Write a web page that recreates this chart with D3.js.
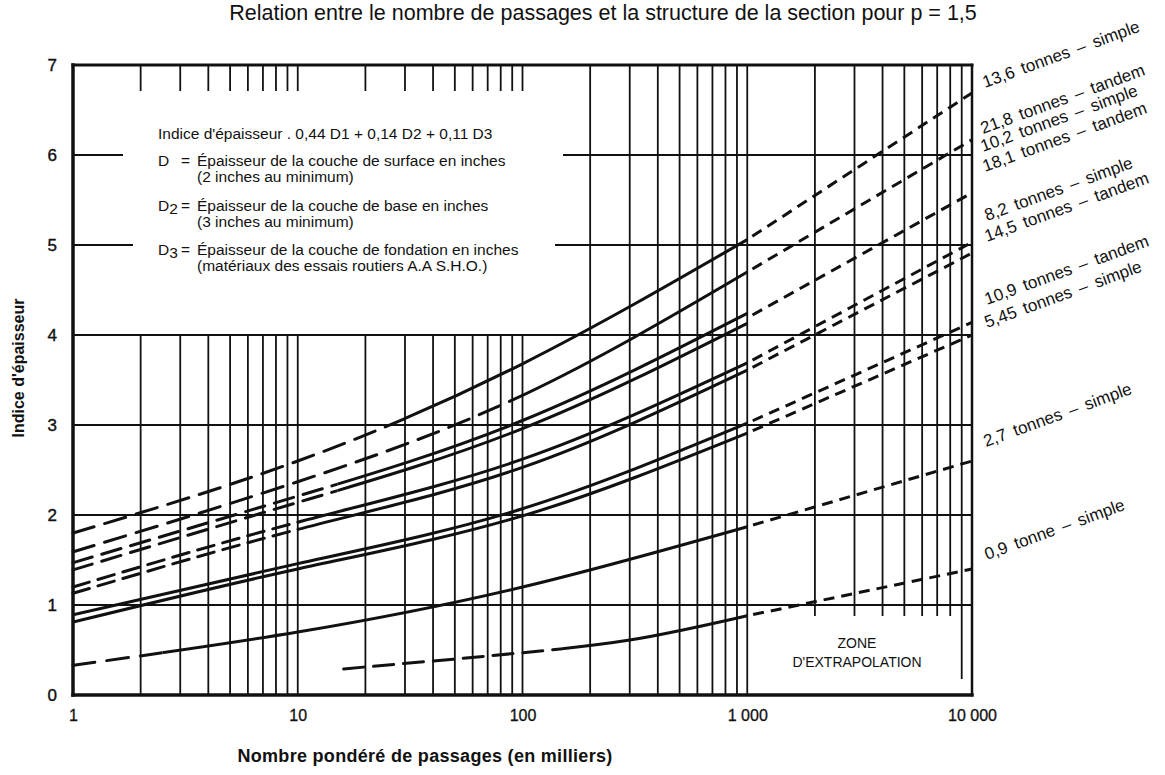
<!DOCTYPE html>
<html>
<head>
<meta charset="utf-8">
<script src="https://cdn.jsdelivr.net/npm/d3@7"></script>
<style>
  html, body { margin: 0; padding: 0; background: #fff; }
  svg { display: block; }
  text { font-family: "Liberation Sans", Arial, sans-serif; fill: #111; }
</style>
</head>
<body>
<svg id="chart" width="1165" height="775"></svg>
<script>
// ---- Axis ticks -------------------------------------------------------
const xTickValues = [1, 10, 100, 1000, 10000];
const xTickLabels = ["1", "10", "100", "1 000", "10 000"];
const yTickValues = [0, 1, 2, 3, 4, 5, 6, 7];

// ---- Curves: thickness index against weighted passes (thousands) -------
const axleLoads = [
  "13,6 tonnes – simple", "21,8 tonnes – tandem",
  "10,2 tonnes – simple", "18,1 tonnes – tandem",
  "8,2 tonnes – simple",  "14,5 tonnes – tandem",
  "10,9 tonnes – tandem", "5,45 tonnes – simple",
  "2,7 tonnes – simple",  "0,9 tonne – simple"
];

// measured part, knots at 1, 10, 100 and 1 000 thousand passes
const passages = [1, 10, 100, 1000];
const index136 = [1.80, 2.60, 3.68, 5.06];
const index218 = [1.59, 2.37, 3.33, 4.70];
const index102 = [1.47, 2.21, 3.05, 4.24];
const index181 = [1.39, 2.14, 2.96, 4.13];
const index82  = [1.20, 1.92, 2.62, 3.69];
const index145 = [1.13, 1.84, 2.53, 3.61];
const index109 = [0.89, 1.46, 2.07, 3.02];
const index545 = [0.81, 1.40, 1.99, 2.91];
const index27  = [0.33, 0.70, 1.20, 1.87];
// the lightest load starts further along the axis
const passages09 = [16, 50, 100, 300, 1000];
const index09    = [0.29, 0.40, 0.47, 0.61, 0.88];

// where the long-dashed beginning turns into a solid line
const solidFrom = [30, 100, 15, 15, 10, 10, 1, 1, 2.5, 150];

// extrapolation from 1 000 to 10 000 thousand passes
const extPassages = [1000, 10000];
const extension = [
  [5.06, 6.69], [4.70, 6.17], [4.19, 5.58], null,
  [3.69, 5.03], [3.61, 4.91], [3.02, 4.14], [2.91, 4.00],
  [1.87, 2.60], [0.88, 1.40]
];

const legendLines = [
  "Indice d'épaisseur . 0,44 D1 + 0,14 D2 + 0,11 D3",
  "Épaisseur de la couche de surface en inches",
  "(2 inches au minimum)",
  "Épaisseur de la couche de base en inches",
  "(3 inches au minimum)",
  "Épaisseur de la couche de fondation en inches",
  "(matériaux des essais routiers A.A S.H.O.)"
];

// ---- Build the series ------------------------------------------------
const measured = [index136, index218, index102, index181, index82, index145,
                  index109, index545, index27];
const series = axleLoads.map((name, i) => {
  const xs = i < 9 ? passages : passages09;
  const ys = i < 9 ? measured[i] : index09;
  return {
    name,
    points: xs.map((p, k) => [p, ys[k]]),
    solidFrom: solidFrom[i],
    ext: extension[i] ? extPassages.map((p, k) => [p, extension[i][k]]) : null
  };
});

// ---- Layout ----------------------------------------------------------
const svg = d3.select("#chart");
const x = d3.scaleLog().domain([1, 10000]).range([73, 972]);
const y = d3.scaleLinear().domain([0, 7]).range([695, 65]);
const ink = "#111";

// Title
svg.append("text")
  .attr("x", 603).attr("y", 20)
  .attr("text-anchor", "middle")
  .style("font-size", "21.5px")
  .text("Relation entre le nombre de passages et la structure de la section pour p = 1,5");

// ---- Grid ------------------------------------------------------------
const grid = svg.append("g").attr("stroke", ink).attr("stroke-width", 1.8).attr("fill", "none");

const minor = [];
for (let d = 0; d < 4; d++) {
  for (let m = 2; m <= 10; m++) minor.push(m * Math.pow(10, d));
}
minor.forEach(v => {
  const px = x(v);
  if (v <= 100) {
    grid.append("line").attr("x1", px).attr("x2", px).attr("y1", y(4)).attr("y2", y(0));
    grid.append("line").attr("x1", px).attr("x2", px).attr("y1", y(7)).attr("y2", y(7) + 26);
  } else if (v <= 1000) {
    grid.append("line").attr("x1", px).attr("x2", px).attr("y1", y(7)).attr("y2", y(0));
  } else if (v < 9000) {
    grid.append("line").attr("x1", px).attr("x2", px).attr("y1", y(7)).attr("y2", y(1) + 11);
  } else if (v === 9000) {
    grid.append("line").attr("x1", px).attr("x2", px).attr("y1", y(7)).attr("y2", y(0) - 16);
  }
});

[1, 2, 3, 4].forEach(v => {
  grid.append("line").attr("x1", x(1)).attr("x2", x(10000)).attr("y1", y(v)).attr("y2", y(v));
});
// upper rows are interrupted by the legend panel
[[5, 133, 555], [6, 123, 563]].forEach(([v, leftEnd, rightStart]) => {
  grid.append("line").attr("x1", x(1)).attr("x2", leftEnd).attr("y1", y(v)).attr("y2", y(v));
  grid.append("line").attr("x1", rightStart).attr("x2", x(10000)).attr("y1", y(v)).attr("y2", y(v));
});

// frame
const frame = svg.append("g").attr("stroke", ink).attr("fill", "none").attr("stroke-linecap", "square");
frame.append("line").attr("x1", x(1)).attr("x2", x(10000)).attr("y1", y(7)).attr("y2", y(7)).attr("stroke-width", 3);
frame.append("line").attr("x1", x(1)).attr("x2", x(10000)).attr("y1", y(0)).attr("y2", y(0)).attr("stroke-width", 3.5);
frame.append("line").attr("x1", x(1)).attr("x2", x(1)).attr("y1", y(7)).attr("y2", y(0)).attr("stroke-width", 3.5);
frame.append("line").attr("x1", x(10000)).attr("x2", x(10000)).attr("y1", y(7)).attr("y2", y(0)).attr("stroke-width", 2.5);

// ---- Axis labels via d3 axes ------------------------------------------
const tickFont = "Liberation Sans, Arial, sans-serif";
const yAxis = d3.axisLeft(y).tickValues(yTickValues).tickSize(0).tickPadding(16).tickFormat(d3.format("d"));
svg.append("g").attr("transform", `translate(${x(1)},0)`).call(yAxis)
  .call(g => g.select(".domain").remove())
  .selectAll("text").style("font-size", "17px").style("font-family", tickFont)
  .attr("fill", ink).attr("stroke", ink).attr("stroke-width", 0.4);

const xAxis = d3.axisBottom(x).tickValues(xTickValues).tickSize(0).tickPadding(15)
  .tickFormat((d, i) => xTickLabels[i]);
svg.append("g").attr("transform", `translate(0,${y(0)})`).call(xAxis)
  .call(g => g.select(".domain").remove())
  .selectAll("text").style("font-size", "16px").style("font-family", tickFont)
  .attr("fill", ink).attr("stroke", ink).attr("stroke-width", 0.3);

svg.append("text")
  .attr("transform", `translate(24,368) rotate(-90)`)
  .attr("text-anchor", "middle")
  .style("font-size", "16px").style("font-weight", "bold")
  .text("Indice d'épaisseur");

svg.append("text")
  .attr("x", 425).attr("y", 762)
  .attr("text-anchor", "middle")
  .style("font-size", "18px").style("font-weight", "bold").style("letter-spacing", "0.3px")
  .text("Nombre pondéré de passages (en milliers)");

// ---- Curves ----------------------------------------------------------
const defs = svg.append("defs");
function clipX(id, a, b) {
  defs.append("clipPath").attr("id", id).append("rect")
    .attr("x", a).attr("y", 0).attr("width", Math.max(0, b - a)).attr("height", 775);
  return `url(#${id})`;
}

const line = d3.line().x(d => x(d[0])).y(d => y(d[1])).curve(d3.curveNatural);
const leftDash = ["22,11", "22,11", "20,10", "20,10", "17,9", "17,9", null, null, "22,12", "20,10"];
const curves = svg.append("g").attr("fill", "none").attr("stroke", ink).attr("stroke-width", 3);

series.forEach((s, i) => {
  const start = s.points[0][0];
  const end = s.points[s.points.length - 1][0];
  const d = line(s.points);
  if (s.solidFrom > start) {
    curves.append("path").attr("d", d)
      .attr("stroke-dasharray", leftDash[i])
      .attr("stroke-linecap", "round")
      .attr("clip-path", clipX(`cd${i}`, x(start) - 2, x(s.solidFrom)));
  }
  curves.append("path").attr("d", d)
    .attr("clip-path", clipX(`cs${i}`, x(s.solidFrom), x(end) + 1));
  if (s.ext) {
    curves.append("path").attr("d", d3.line().x(p => x(p[0])).y(p => y(p[1]))(s.ext))
      .attr("stroke-dasharray", "11,7")
      .attr("stroke-dashoffset", -6);
  }
});

// ---- Legend panel ----------------------------------------------------
const legend = svg.append("g").style("font-size", "15.5px");
legend.append("text").attr("x", 158).attr("y", 139).text(legendLines[0]);
const defRows = [
  { y: 166, sub: "", text: legendLines[1] },
  { y: 211, sub: "2", text: legendLines[3] },
  { y: 255, sub: "3", text: legendLines[5] }
];
defRows.forEach(r => {
  const t = legend.append("text").attr("x", 158).attr("y", r.y);
  t.append("tspan").text("D");
  if (r.sub) t.append("tspan").attr("dy", 3).text(r.sub);
  legend.append("text").attr("x", 181).attr("y", r.y).text("=");
  legend.append("text").attr("x", 197).attr("y", r.y).text(r.text);
});
[[182, legendLines[2]], [227, legendLines[4]], [271, legendLines[6]]].forEach(([yy, t]) => {
  legend.append("text").attr("x", 197).attr("y", yy).text(t);
});

// ---- Extrapolation zone ---------------------------------------------
svg.append("text").attr("x", 857).attr("y", 648).attr("text-anchor", "middle")
  .style("font-size", "14px").text("ZONE");
svg.append("text").attr("x", 857).attr("y", 667).attr("text-anchor", "middle")
  .style("font-size", "14px").text("D'EXTRAPOLATION");

// ---- Load labels along the right edge --------------------------------
const labelAnchors = [
  [985, 88], [983, 134], [983, 152], [985, 172], [987, 221],
  [987, 242], [987, 305], [987, 328], [986, 447], [987, 560]
];
svg.append("g").style("font-size", "17px").style("word-spacing", "3px")
  .selectAll("text").data(axleLoads).join("text")
  .attr("transform", (d, i) => `translate(${labelAnchors[i][0]},${labelAnchors[i][1]}) rotate(-20)`)
  .text(d => d);
</script>
</body>
</html>
